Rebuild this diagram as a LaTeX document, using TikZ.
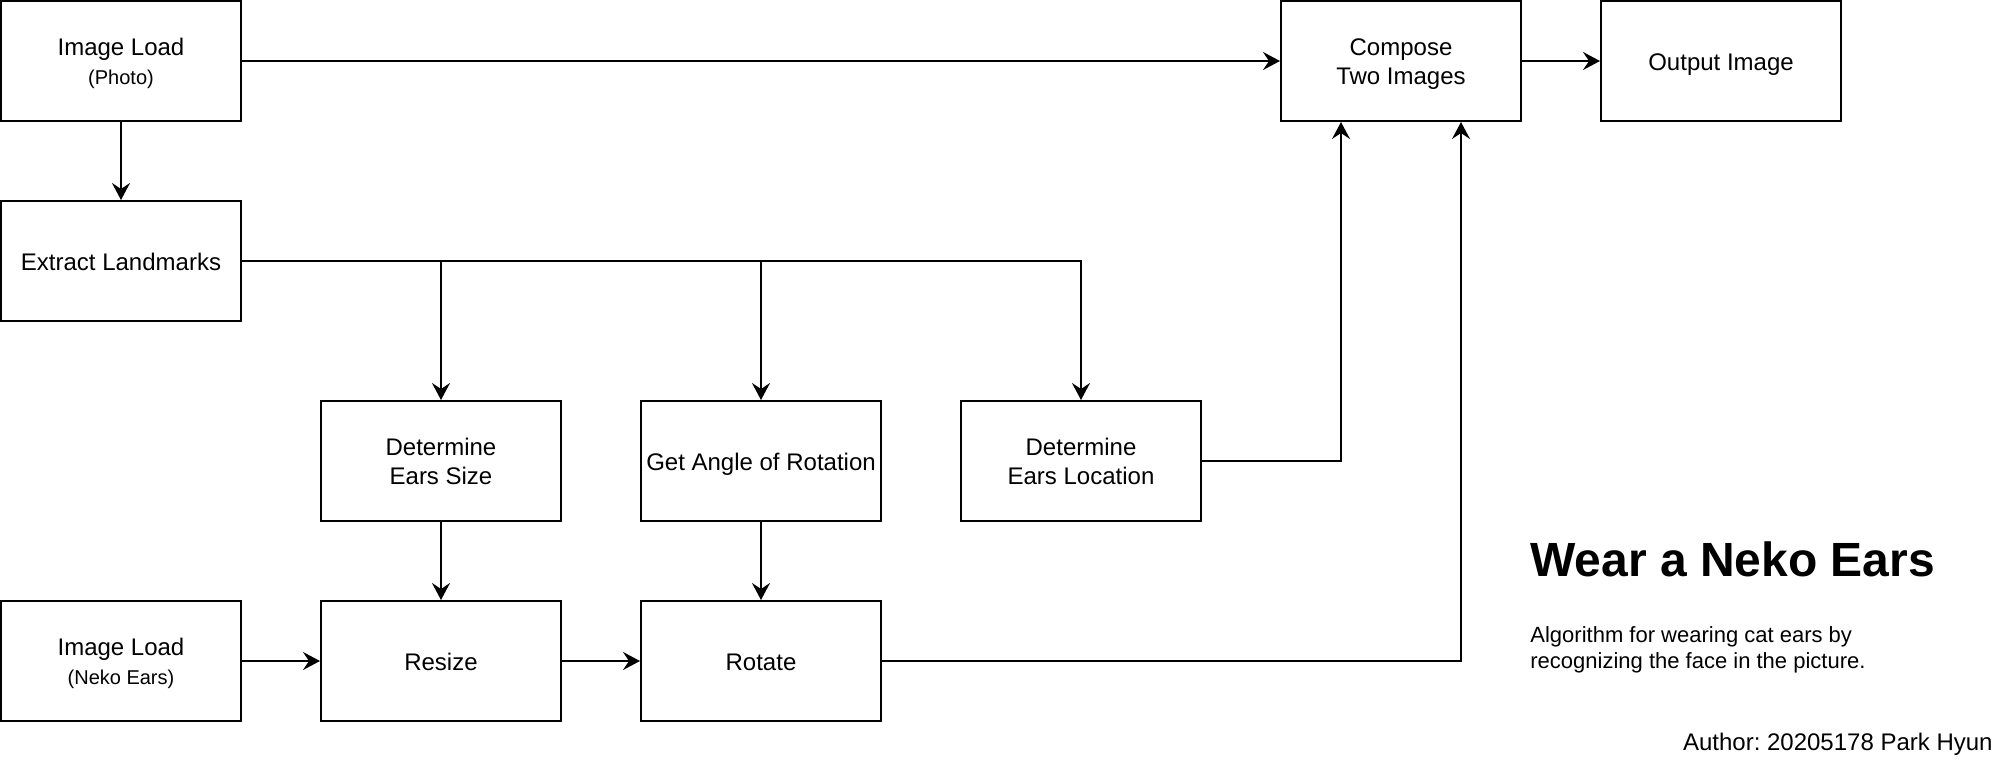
\documentclass[tikz,border=0pt]{standalone}
\usepackage{fontspec}
\setmainfont{Liberation Sans}
\usetikzlibrary{arrows.meta}
\frenchspacing
\newcommand\bxs{\rule[-2.6pt]{0pt}{14.4pt}}
\newcommand\smalltxt[1]{{\fontsize{10}{14.4}\selectfont\bxs #1}}
\begin{document}
\begin{tikzpicture}[x=1pt,y=-1pt,
  box/.style={draw, line width=1pt, minimum width=120pt, minimum height=60pt,
    align=center, inner sep=0pt, font=\fontsize{12}{14.4}\selectfont},
  arr/.style={line width=1pt, -{Stealth[length=8.5pt,width=9pt,inset=3pt]}}]
\useasboundingbox (0,0) rectangle (1001,389);
% boxes
\node[box] (il1) at (60.5,30.5) {\bxs Image Load\\\smalltxt{(Photo)}};
\node[box] (el)  at (60.5,130.5) {\bxs Extract Landmarks};
\node[box] (des) at (220.5,230.5) {\bxs Determine\\\bxs Ears Size};
\node[box] (gar) at (380.5,230.5) {\bxs Get Angle of Rotation};
\node[box] (del) at (540.5,230.5) {\bxs Determine\\\bxs Ears Location};
\node[box] (il2) at (60.5,330.5) {\bxs Image Load\\\smalltxt{(Neko Ears)}};
\node[box] (res) at (220.5,330.5) {\bxs Resize};
\node[box] (rot) at (380.5,330.5) {\bxs Rotate};
\node[box] (cmp) at (700.5,30.5) {\bxs Compose\\\bxs Two Images};
\node[box] (out) at (860.5,30.5) {\bxs Output Image};
% connectors
\draw[arr] (il1) -- (cmp);
\draw[arr] (cmp) -- (out);
\draw[arr] (il1) -- (el);
\draw[arr] (el.east) -| (des.north);
\draw[arr] (el.east) -| (gar.north);
\draw[arr] (el.east) -| (del.north);
\draw[arr] (des) -- (res);
\draw[arr] (gar) -- (rot);
\draw[arr] (il2) -- (res);
\draw[arr] (res) -- (rot);
\draw[arr] (del.east) -| ([xshift=-30pt]cmp.south);
\draw[arr] (rot.east) -| ([xshift=30pt]cmp.south);
% texts
\node[anchor=base west, inner sep=0pt, font=\fontsize{24}{28}\selectfont\bfseries] (title) at (765,288.3) {Wear a Neko Ears};
\node[anchor=base west, inner sep=0pt, font=\fontsize{11}{13}\selectfont] (desc1) at (765,321) {Algorithm for wearing cat ears by};
\node[anchor=base west, inner sep=0pt, font=\fontsize{11}{13}\selectfont] (desc2) at (765,334) {recognizing the face in the picture.};
\node[anchor=base east, inner sep=0pt, font=\fontsize{12}{14}\selectfont] (author) at (996.5,375) {Author: 20205178 Park Hyun};
\end{tikzpicture}
\end{document}
